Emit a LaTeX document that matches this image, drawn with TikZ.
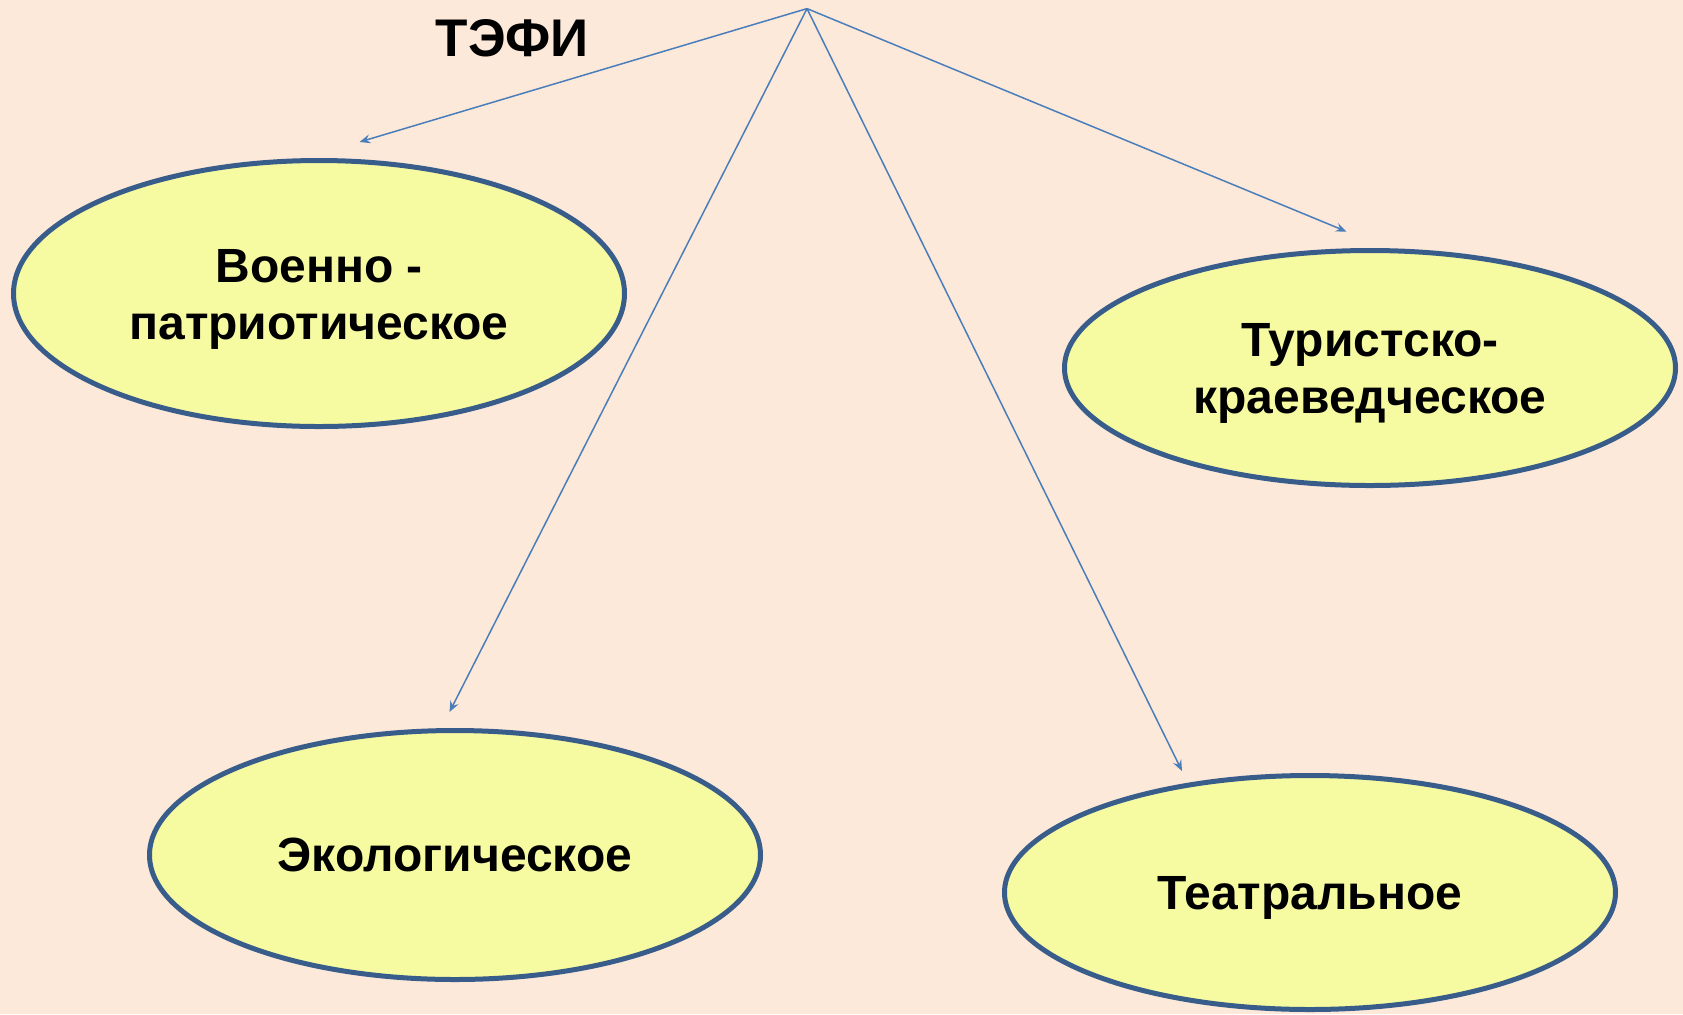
\documentclass[tikz,border=0pt]{standalone}
\usepackage{fontspec}
\setmainfont{Liberation Sans}
\usetikzlibrary{shapes.geometric, arrows.meta}
\definecolor{pageColor}{RGB}{253, 233, 217}
\definecolor{ovalFill}{RGB}{246, 250, 160}
\definecolor{ovalLine}{RGB}{56, 93, 138}
\definecolor{linkColor}{RGB}{74, 126, 187}
\newcommand{\topPad}{\rule{0pt}{22pt}}
\tikzset{
    dir_oval/.style={
        ellipse,
        line width=2.5pt,
        draw=ovalLine,
        fill=ovalFill,
        inner sep=0pt,
        minimum width=305.5pt,
        align=center,
        text=black,
        font=\fontsize{24}{28.5}\selectfont\bfseries
    },
    dir_link/.style={
        -{Stealth[length=5.5pt, width=4.5pt, inset=2pt]},
        line width=0.75pt,
        draw=linkColor
    }
}

\begin{document}
\begin{tikzpicture}[x=0.5pt, y=-0.5pt]
    \fill[pageColor] (0,0) rectangle (1683,1014);
    \useasboundingbox (0,0) rectangle (1683,1014);

    \node[anchor=base, font=\fontsize{26.5}{30}\selectfont\bfseries] (tefi) at (512,56) {ТЭФИ};
    \coordinate (top) at (807,8.6);

    \node[dir_oval, minimum height=133pt] (military) at (319,293.5) {\topPad Военно -\\патриотическое};
    \node[dir_oval, minimum height=117.5pt] (tourism) at (1370,368) {\topPad Туристско-\\краеведческое};
    \node[dir_oval, minimum height=124.5pt] (ecology) at (455,855) {Экологическое};
    \node[dir_oval, minimum height=117pt, text depth=0pt] (theatre) at (1310,892.5) {Театральное};

    \coordinate (to_military) at (359.5,142);
    \coordinate (to_tourism) at (1346.5,231.5);
    \coordinate (to_ecology) at (449.5,712);
    \coordinate (to_theatre) at (1182,771);

    \draw[dir_link] (top) -- (to_military);
    \draw[dir_link] (top) -- (to_tourism);
    \draw[dir_link] (top) -- (to_ecology);
    \draw[dir_link] (top) -- (to_theatre);
\end{tikzpicture}
\end{document}
